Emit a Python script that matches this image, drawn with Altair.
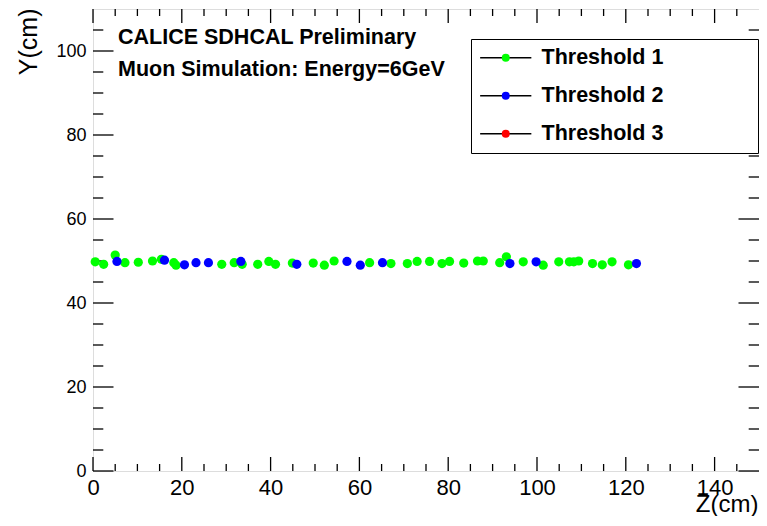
import altair as alt
import pandas as pd

# ---------------- data ----------------
series_names = ["Threshold 1", "Threshold 2", "Threshold 3"]
series_colors = ["#00ff00", "#0000ff", "#ff0000"]

t1_z = [0.5, 2.4, 5.0, 7.2, 10.2, 13.4, 15.4, 18.2, 18.7, 29.0, 31.8, 33.6, 37.1,
        39.6, 41.1, 44.9, 49.6, 52.1, 54.3, 62.3, 67.1, 70.8, 73.0, 75.8, 78.6,
        80.3, 83.5, 86.6, 87.9, 91.6, 93.1, 96.9, 101.4, 104.9, 107.3, 108.3,
        109.4, 112.5, 114.7, 116.9, 120.6]
t1_y = [49.8, 49.2, 51.4, 49.6, 49.7, 50.0, 50.4, 49.6, 49.0, 49.2, 49.6, 49.2, 49.2,
        49.9, 49.2, 49.5, 49.5, 49.0, 50.0, 49.6, 49.4, 49.4, 49.9, 49.9, 49.4,
        49.9, 49.5, 50.0, 50.0, 49.6, 51.0, 49.8, 49.0, 49.8, 49.8, 49.8,
        50.0, 49.4, 49.1, 49.8, 49.1]

t2_z = [5.4, 16.1, 20.6, 23.2, 26.0, 33.3, 45.9, 57.2, 60.2, 65.2, 93.9, 99.8, 122.4]
t2_y = [49.9, 50.2, 49.1, 49.6, 49.6, 49.9, 49.2, 49.9, 49.0, 49.6, 49.4, 49.8, 49.4]

x_major = [0, 20, 40, 60, 80, 100, 120, 140]
x_minor = [v for v in range(5, 150, 5) if v % 20 != 0]
y_major = [0, 20, 40, 60, 80, 100]
y_minor = [v for v in range(5, 110, 5) if v % 20 != 0]

header_lines = ["CALICE SDHCAL Preliminary", "Muon Simulation: Energy=6GeV"]

# ---------------- layout ----------------
W, H = 666, 462
FONT = "Liberation Sans"
X_MAJ, X_MIN = 14, 7
Y_MAJ, Y_MIN = 20.5, 10.3
TICK_W = 1.3

pts = pd.DataFrame({
    "z": t1_z + t2_z,
    "y": t1_y + t2_y,
    "series": [series_names[0]] * len(t1_z) + [series_names[1]] * len(t2_z),
})
legend_df = pd.DataFrame({"legend": series_names})

xscale = alt.Scale(domain=[0, 150], nice=False, zero=False)
yscale = alt.Scale(domain=[0, 110], nice=False, zero=False)

xaxis = alt.Axis(values=x_major, format="d", title="Z(cm)", grid=False, domain=False,
                 ticks=False, tickSize=0, labelFont=FONT, labelFontSize=22,
                 labelColor="black", labelPadding=6, labelFlush=False, labelOverlap=False,
                 titleFont=FONT, titleFontSize=24, titleFontWeight="normal",
                 titleColor="black", titleX=W - 1, titleY=40, titleAlign="right",
                 titleBaseline="alphabetic")
yaxis = alt.Axis(values=y_major, format="d", title="Y(cm)", grid=False, domain=False,
                 ticks=False, tickSize=0, labelFont=FONT, labelFontSize=18,
                 labelColor="black", labelPadding=7, labelFlush=False, labelOverlap=False,
                 titleFont=FONT, titleFontSize=25, titleFontWeight="normal",
                 titleColor="black", titleAngle=270, titleX=-57, titleY=-1,
                 titleAlign="right", titleBaseline="alphabetic")


def X(field):
    return alt.X(field, type="quantitative", scale=xscale, axis=xaxis)


def Y(field):
    return alt.Y(field, type="quantitative", scale=yscale, axis=yaxis)


def xticks(vals, length, top):
    d = pd.DataFrame({"v": vals})
    if top:
        yy, yy2 = alt.value(0), alt.value(length)
    else:
        yy, yy2 = alt.value(H), alt.value(H - length)
    return alt.Chart(d).mark_rule(color="black", strokeWidth=TICK_W).encode(
        x=X("v"), y=yy, y2=yy2)


def yticks(vals, length, right):
    d = pd.DataFrame({"v": vals})
    if right:
        xx, xx2 = alt.value(W), alt.value(W - length)
    else:
        xx, xx2 = alt.value(0), alt.value(length)
    return alt.Chart(d).mark_rule(color="black", strokeWidth=TICK_W).encode(
        y=Y("v"), x=xx, x2=xx2)


LEG_X, LEG_Y = 378, 30
common_leg = dict(
    orient="none", legendX=LEG_X, legendY=LEG_Y, direction="vertical",
    symbolSize=64, symbolOffset=16, labelFont=FONT, labelFontSize=21.5,
    labelFontWeight="bold", labelColor="black", labelOffset=25,
    labelLimit=500, rowPadding=15, padding=8,
)

line_path = "M-6.4,0L6.4,0"
# invisible right-hand title only widens the framed box, as in the reference
line_legend = alt.Legend(title="Threshold", titleOrient="right", titleOpacity=0,
                         titleFontSize=16, titleFontWeight="bold", titleFont=FONT,
                         titlePadding=9,
                         symbolStrokeColor="black", symbolFillColor="transparent",
                         symbolStrokeWidth=1.3, symbolOpacity=1, labelOpacity=0,
                         fillColor="white", strokeColor="black", **common_leg)
dot_legend = alt.Legend(title=None, symbolType="circle", symbolStrokeWidth=0,
                        symbolOpacity=1, **common_leg)

legend_lines = alt.Chart(legend_df).mark_point(size=0, filled=False, opacity=1).encode(
    shape=alt.Shape("legend:N", scale=alt.Scale(range=[line_path] * 3), legend=line_legend)
)

points = alt.Chart(pts).mark_point(filled=True, size=85, opacity=1, shape="circle").encode(
    x=X("z"),
    y=Y("y"),
    color=alt.Color("series:N", scale=alt.Scale(domain=series_names, range=series_colors),
                    legend=dot_legend),
)

chart = alt.layer(
    legend_lines,
    xticks(x_major, X_MAJ, False), xticks(x_minor, X_MIN, False),
    xticks(x_major, X_MAJ, True), xticks(x_minor, X_MIN, True),
    yticks(y_major, Y_MAJ, False), yticks(y_minor, Y_MIN, False),
    yticks(y_major, Y_MAJ, True), yticks(y_minor, Y_MIN, True),
    points,
).properties(
    width=W, height=H,
    autosize=alt.AutoSizeParams(type="none"),
    padding={"left": 85, "top": 1, "right": 0, "bottom": 45},
    title=alt.Title(text=header_lines, anchor="start", frame="group", orient="top",
                    offset=0, dx=25, dy=72.7, baseline="top", fontSize=21.5,
                    fontWeight="bold", font=FONT, color="black", lineHeight=32.3),
).configure_view(stroke="black", strokeWidth=1.5).configure(background="white")

chart.save("out.html", embed_options={"renderer": "svg", "actions": False})
